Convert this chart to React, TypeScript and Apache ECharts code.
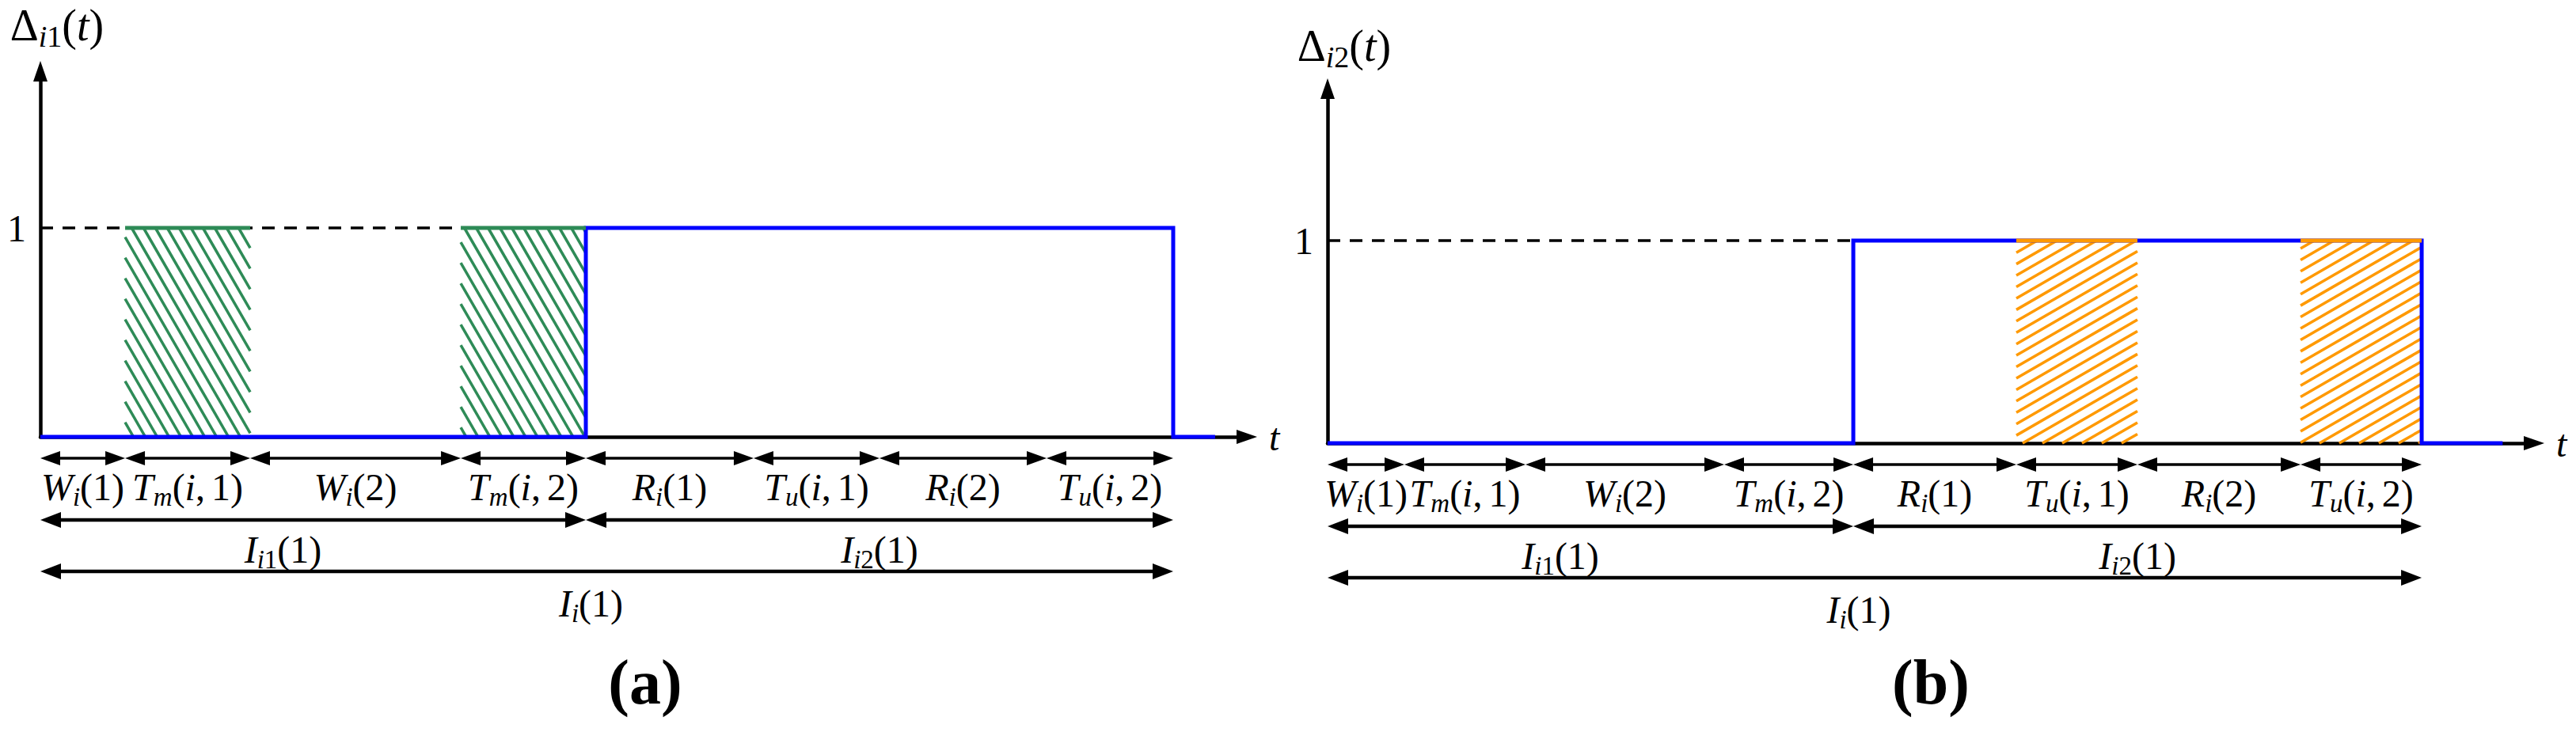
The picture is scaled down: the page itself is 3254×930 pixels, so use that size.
import React, { useEffect, useRef } from 'react';
import * as echarts from 'echarts';

// ---------------- data ----------------
const segmentLabels = ['W_i(1)', 'T_m(i,1)', 'W_i(2)', 'T_m(i,2)', 'R_i(1)', 'T_u(i,1)', 'R_i(2)', 'T_u(i,2)'];
const phaseLabels = ['I_i1(1)', 'I_i2(1)'];
const cycleLabel = 'I_i(1)';
const yAxisNames = ['Δ_i1(t)', 'Δ_i2(t)'];
const xAxisName = 't';
const yTickLabels = ['1'];
const captions = ['(a)', '(b)'];

// segment boundaries on the t axis
const boundsA = [0, 7.48, 18.52, 37.11, 48.15, 62.96, 74.07, 88.82, 100];
const boundsB = [0, 7.02, 18.09, 36.25, 48.05, 62.95, 74.02, 88.93, 100];

// step signals Δ_i1(t), Δ_i2(t)
const signalTA = [0, 48.15, 48.15, 100, 100, 103.7];
const signalVA = [0, 0, 1, 1, 0, 0];
const signalTB = [0, 48.05, 48.05, 100, 100, 107.4];
const signalVB = [0, 0, 1, 1, 0, 0];

// hatched segments (indices into the segment list)
const hatchSegA = [1, 3]; // T_m(i,1), T_m(i,2)
const hatchSegB = [5, 7]; // T_u(i,1), T_u(i,2)

const tMaxA = 106.5;
const tMaxB = 110.27;
const yMax = 1.75;

// ---------------- layout / style ----------------
const GRIDS = [
  { left: 51, top: 90, width: 1524, height: 462 },
  { left: 1677, top: 112, width: 1524, height: 448 },
];
const Y_NAME_GAP = [58, 54];
const ROW_Y = [27, 105, 170];
const LABEL_Y = [63, 142, 210];
const LABEL_DX: Record<string, number> = { 'I_i1(1)': -38, 'I_i(1)': -20 };
const HEAD = [
  { len: 25, w: 18, lw: 3.5 },
  { len: 26, w: 20, lw: 4.5 },
  { len: 26, w: 20, lw: 4.5 },
];
const CAPTION_POS = [[815, 862], [2439, 862]];
const GREEN = '#2e8b57';
const ORANGE = '#ff9900';
const BLUE = '#0000ff';
const HATCH_DIR = [[0.5, 0.866], [0.866, -0.5]];
const HATCH_SPACING = [13, 12.5];

const SERIF = '"Liberation Serif", "Times New Roman", serif';
const FS = 48;

function richSet(fs: number, sfs: number, lh: number, slh: number): any {
  const base = { fontFamily: SERIF, color: '#000', fill: '#000' };
  return {
    it: { ...base, fontStyle: 'italic', fontSize: fs, lineHeight: lh },
    up: { ...base, fontStyle: 'normal', fontSize: fs, lineHeight: lh },
    cm: { ...base, fontStyle: 'normal', fontSize: fs, lineHeight: lh, padding: [0, Math.round(fs / 6), 0, 0] },
    si: { ...base, fontStyle: 'italic', fontSize: sfs, lineHeight: slh, verticalAlign: 'bottom' },
    su: { ...base, fontStyle: 'normal', fontSize: sfs, lineHeight: slh, verticalAlign: 'bottom' },
  };
}
const RICH = richSet(48, 33, 58, 37);
const RICH_NAME = richSet(56, 38, 66, 36);

function mathRich(spec: string): string {
  const m = spec.match(/^([^_(]+)(?:_([^(]+))?(?:\((.*)\))?$/);
  if (!m) return spec;
  const base = m[1];
  const sub = m[2];
  const args = m[3];
  let s = '';
  for (const ch of base) s += /[\u0391-\u03c9\d]/.test(ch) ? `{up|${ch}}` : `{it|${ch}}`;
  if (sub) for (const ch of sub) s += /\d/.test(ch) ? `{su|${ch}}` : `{si|${ch}}`;
  if (args !== undefined) {
    s += '{up|(}';
    for (const ch of args) {
      if (ch === ',') s += '{cm|,}';
      else if (/\d/.test(ch)) s += `{up|${ch}}`;
      else s += `{it|${ch}}`;
    }
    s += '{up|)}';
  }
  return s;
}

function clipLine(px: number, py: number, dx: number, dy: number, L: number, T: number, R: number, B: number) {
  let t0 = -Infinity;
  let t1 = Infinity;
  const edges: [number, number][] = [[-dx, px - L], [dx, R - px], [-dy, py - T], [dy, B - py]];
  for (const [p, q] of edges) {
    if (Math.abs(p) < 1e-9) {
      if (q < 0) return null;
      continue;
    }
    const r = q / p;
    if (p < 0) { if (r > t0) t0 = r; } else if (r < t1) t1 = r;
  }
  if (t0 >= t1) return null;
  return [px + t0 * dx, py + t0 * dy, px + t1 * dx, py + t1 * dy];
}

function hatchRenderer(dir: number[], spacing: number, color: string) {
  return (_params: any, api: any) => {
    const a = api.coord([api.value(0), 1]);
    const b = api.coord([api.value(1), 0]);
    const L = a[0], T = a[1], R = b[0], B = b[1];
    const nx = -dir[1], ny = dir[0];
    const cs = [L * nx + T * ny, R * nx + T * ny, L * nx + B * ny, R * nx + B * ny];
    const cmin = Math.min(...cs), cmax = Math.max(...cs);
    const children: any[] = [];
    for (let c = Math.ceil(cmin / spacing) * spacing; c <= cmax; c += spacing) {
      const seg = clipLine(nx * c, ny * c, dir[0], dir[1], L, T, R, B);
      if (!seg) continue;
      if (Math.hypot(seg[2] - seg[0], seg[3] - seg[1]) < 1) continue;
      children.push({
        type: 'line',
        shape: { x1: seg[0], y1: seg[1], x2: seg[2], y2: seg[3] },
        style: { stroke: color, lineWidth: 3.5 },
      });
    }
    return { type: 'group', children };
  };
}

function topLineRenderer(color: string) {
  return (_params: any, api: any) => {
    const a = api.coord([api.value(0), 1]);
    const b = api.coord([api.value(1), 1]);
    return {
      type: 'line',
      shape: { x1: a[0], y1: a[1], x2: b[0], y2: b[1] },
      style: { stroke: color, lineWidth: 5 },
    };
  };
}

function annotationRenderer(labels: string[]) {
  return (params: any, api: any) => {
    const row = api.value(2) as number;
    const a = api.coord([api.value(0), 0]);
    const b = api.coord([api.value(1), 0]);
    const base = a[1];
    const y = base + ROW_Y[row];
    const h = HEAD[row];
    const X0 = a[0], X1 = b[0];
    const label = labels[params.dataIndex];
    return {
      type: 'group',
      children: [
        { type: 'line', shape: { x1: X0 + h.len / 2, y1: y, x2: X1 - h.len / 2, y2: y }, style: { stroke: '#000', lineWidth: h.lw } },
        { type: 'polygon', shape: { points: [[X0, y], [X0 + h.len, y - h.w / 2], [X0 + h.len, y + h.w / 2]] }, style: { fill: '#000' } },
        { type: 'polygon', shape: { points: [[X1, y], [X1 - h.len, y - h.w / 2], [X1 - h.len, y + h.w / 2]] }, style: { fill: '#000' } },
        {
          type: 'text',
          x: (X0 + X1) / 2 + (LABEL_DX[label] || 0),
          y: base + LABEL_Y[row],
          style: {
            legacy: false,
            text: mathRich(label),
            rich: RICH,
            align: 'center',
            verticalAlign: 'middle',
            fill: '#000',
            fontFamily: SERIF,
            fontSize: FS,
          },
        },
      ],
    };
  };
}

function panelSeries(p: number): any[] {
  const bounds = p === 0 ? boundsA : boundsB;
  const sigT = p === 0 ? signalTA : signalTB;
  const sigV = p === 0 ? signalVA : signalVB;
  const hatchIdx = p === 0 ? hatchSegA : hatchSegB;
  const color = p === 0 ? GREEN : ORANGE;
  const hatch = hatchIdx.map((i) => [bounds[i], bounds[i + 1]]);
  const stepUp = sigT[sigV.indexOf(1)];

  const annData: number[][] = [];
  const annLabels: string[] = [];
  segmentLabels.forEach((lab, i) => { annData.push([bounds[i], bounds[i + 1], 0]); annLabels.push(lab); });
  annData.push([bounds[0], bounds[4], 1]); annLabels.push(phaseLabels[0]);
  annData.push([bounds[4], bounds[8], 1]); annLabels.push(phaseLabels[1]);
  annData.push([bounds[0], bounds[8], 2]); annLabels.push(cycleLabel);

  const common = { xAxisIndex: p, yAxisIndex: p, silent: true, animation: false };
  return [
    {
      ...common,
      type: 'line',
      z: 1,
      data: [[0, 1], [stepUp, 1]],
      symbol: 'none',
      clip: false,
      lineStyle: { color: '#000', width: 3.5, type: [16, 12] },
    },
    {
      ...common,
      type: 'custom',
      z: 2,
      clip: false,
      data: hatch,
      renderItem: hatchRenderer(HATCH_DIR[p], HATCH_SPACING[p], color),
    },
    {
      ...common,
      type: 'line',
      z: 3,
      data: sigT.map((t, i) => [t, sigV[i]]),
      symbol: 'none',
      showSymbol: false,
      clip: false,
      lineStyle: { color: BLUE, width: 5, join: 'miter', cap: 'butt' },
    },
    {
      ...common,
      type: 'custom',
      z: 4,
      clip: false,
      data: hatch,
      renderItem: topLineRenderer(color),
    },
    {
      ...common,
      type: 'custom',
      z: 5,
      clip: false,
      data: annData,
      renderItem: annotationRenderer(annLabels),
    },
  ];
}

function buildOption(): any {
  const axisLine = {
    show: true,
    onZero: false,
    symbol: ['none', 'triangle'],
    symbolSize: [18, 26],
    lineStyle: { color: '#000', width: 4.5 },
  };
  return {
    animation: false,
    backgroundColor: '#ffffff',
    grid: GRIDS.map((g) => ({ ...g, show: false, containLabel: false })),
    xAxis: [0, 1].map((p) => ({
      type: 'value',
      gridIndex: p,
      min: 0,
      max: p === 0 ? tMaxA : tMaxB,
      axisLine,
      axisTick: { show: false },
      axisLabel: { show: false },
      splitLine: { show: false },
      name: xAxisName,
      nameLocation: 'end',
      nameGap: 28,
      nameTextStyle: { fontFamily: SERIF, fontStyle: 'italic', fontSize: FS, color: '#000', align: 'left', verticalAlign: 'middle' },
    })),
    yAxis: [0, 1].map((p) => ({
      type: 'value',
      gridIndex: p,
      min: 0,
      max: yMax,
      interval: 1,
      axisLine,
      axisTick: { show: false },
      splitLine: { show: false },
      axisLabel: {
        show: true,
        margin: 18,
        formatter: (v: number) => (yTickLabels.includes(String(v)) ? String(v) : ''),
        fontFamily: SERIF,
        fontSize: FS,
        color: '#000',
      },
      name: mathRich(yAxisNames[p]),
      nameLocation: 'end',
      nameGap: Y_NAME_GAP[p],
      nameTextStyle: {
        align: 'center',
        verticalAlign: 'middle',
        padding: [0, 0, 0, 42],
        rich: RICH_NAME,
        fontFamily: SERIF,
        fontSize: 56,
        color: '#000',
      },
    })),
    series: [...panelSeries(0), ...panelSeries(1)],
    graphic: captions.map((c, i) => ({
      type: 'text',
      x: CAPTION_POS[i][0],
      y: CAPTION_POS[i][1],
      silent: true,
      style: {
        legacy: false,
        text: c,
        fill: '#000',
        fontFamily: SERIF,
        fontWeight: 'bold',
        fontSize: 80,
        align: 'center',
        verticalAlign: 'middle',
        textAlign: 'center',
        textVerticalAlign: 'middle',
      },
    })),
  };
}

export default function App() {
  const ref = useRef<HTMLDivElement>(null);
  useEffect(() => {
    if (!ref.current) return;
    const chart = echarts.init(ref.current, undefined, { renderer: 'svg' });
    chart.setOption(buildOption());
    return () => chart.dispose();
  }, []);
  return (
    <div
      ref={ref}
      style={{ position: 'absolute', left: 0, top: 0, width: 3254, height: 930, background: '#fff' }}
    />
  );
}
